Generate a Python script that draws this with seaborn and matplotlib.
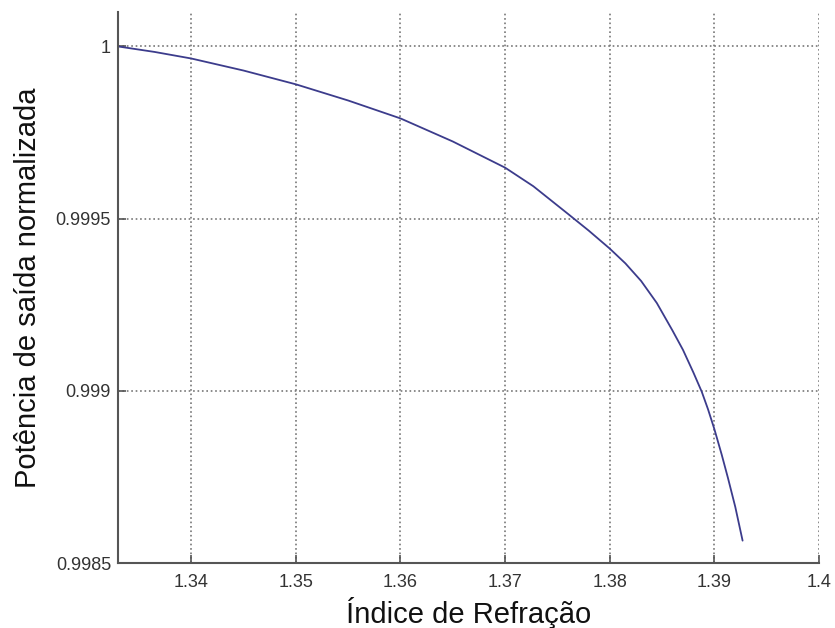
import numpy as np
import pandas as pd
import matplotlib
matplotlib.use("Agg")
import matplotlib.pyplot as plt
import seaborn as sns

# pontos
indice = [1.333, 1.3365, 1.34, 1.345, 1.35, 1.355, 1.36, 1.365, 1.37, 1.3727,
          1.376, 1.378, 1.38, 1.3815, 1.383, 1.3845, 1.386, 1.387, 1.388,
          1.3888, 1.3894, 1.39, 1.3907, 1.3913, 1.392, 1.3927]
potencia = [1.0, 0.999984, 0.999965, 0.99993, 0.99989, 0.999843, 0.999791,
            0.999724, 0.999648, 0.999594, 0.999514, 0.999465, 0.999413,
            0.99937, 0.999319, 0.999255, 0.999175, 0.999119, 0.999053,
            0.998997, 0.998946, 0.998889, 0.998815, 0.998747, 0.998663,
            0.998565]

xticks = [1.34, 1.35, 1.36, 1.37, 1.38, 1.39, 1.4]
xlabels = ['1.34', '1.35', '1.36', '1.37', '1.38', '1.39', '1.4']
yticks = [0.9985, 0.999, 0.9995, 1.0]
ylabels = ['0.9985', '0.999', '0.9995', '1']

df = pd.DataFrame({'indice': indice, 'potencia': potencia})

sns.set_style('white')
plt.rcParams['font.family'] = ['Liberation Sans', 'DejaVu Sans']

fig = plt.figure(figsize=(8.35, 6.28), dpi=100)
ax = fig.add_axes([0.1413, 0.1035, 0.8395, 0.8774])

sns.lineplot(data=df, x='indice', y='potencia', color='#3c3c8c', linewidth=1.3, ax=ax)

ax.set_xlim(1.333, 1.4)
ax.set_ylim(0.9985, 1.0001)
ax.set_xticks(xticks)
ax.set_xticklabels(xlabels)
ax.set_yticks(yticks)
ax.set_yticklabels(ylabels)
ax.grid(True, linestyle=':', color='#777777', linewidth=1.2)

for s in ['top', 'right']:
    ax.spines[s].set_visible(False)
for s in ['left', 'bottom']:
    ax.spines[s].set_color('#555555')
    ax.spines[s].set_linewidth(1.5)

ax.tick_params(bottom=True, left=True, direction='in', length=6, width=1.2,
               color='#555555', labelsize=13, labelcolor='#333333')
ax.tick_params(axis='y', pad=5)
ax.tick_params(axis='x', pad=8)

ax.set_xlabel('Índice de Refração', fontsize=21, color='#111111')
ax.set_ylabel('Potência de saída normalizada', fontsize=21, color='#111111')
ax.xaxis.set_label_coords(0.5, -0.062)
ax.yaxis.set_label_coords(-0.108, 0.5)

fig.savefig('out.png', dpi=100)
